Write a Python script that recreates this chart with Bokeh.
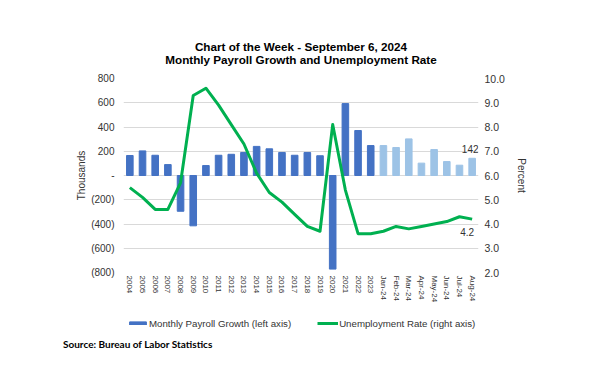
from bokeh.plotting import figure
from bokeh.layouts import column
from bokeh.models import (ColumnDataSource, FactorRange, Range1d, LinearAxis, FixedTicker,
                          Legend, LegendItem, Label, Div)
from bokeh.embed import file_html
from bokeh.resources import INLINE

# ---------------- data ----------------
categories = ["2004", "2005", "2006", "2007", "2008", "2009", "2010", "2011", "2012", "2013",
              "2014", "2015", "2016", "2017", "2018", "2019", "2020", "2021", "2022", "2023",
              "Jan-24", "Feb-24", "Mar-24", "Apr-24", "May-24", "Jun-24", "Jul-24", "Aug-24"]
payroll = [165, 203, 167, 90, -295, -415, 82, 167, 175, 190,
           240, 220, 190, 167, 190, 163, -772, 593, 371, 247,
           247, 231, 302, 102, 214, 115, 85, 142]
unemployment = [5.5, 5.1, 4.6, 4.6, 5.7, 9.3, 9.6, 8.9, 8.1, 7.3,
                6.1, 5.3, 4.9, 4.4, 3.9, 3.7, 8.1, 5.4, 3.6, 3.6,
                3.7, 3.9, 3.8, 3.9, 4.0, 4.1, 4.3, 4.2]
is_monthly = [c.endswith("-24") for c in categories]
left_ticks = [-800, -600, -400, -200, 0, 200, 400, 600, 800]
left_tick_labels = ["(800)", "(600)", "(400)", "(200)", "-", "200", "400", "600", "800"]
right_ticks = [2, 3, 4, 5, 6, 7, 8, 9, 10]
right_tick_labels = ["2.0", "3.0", "4.0", "5.0", "6.0", "7.0", "8.0", "9.0", "10.0"]
title_line1 = "Chart of the Week - September 6, 2024"
title_line2 = "Monthly Payroll Growth and Unemployment Rate"
legend_labels = ["Monthly Payroll Growth (left axis)", "Unemployment Rate (right axis)"]
source_text = "Source: Bureau of Labor Statistics"

DARK = "#4472C4"
LIGHT = "#9DC3E6"
GREEN = "#00B050"
FONT = "Liberation Sans"
TXT = "#333333"
W = 595
FW, FH = 355, 194

colors = [LIGHT if m else DARK for m in is_monthly]
src = ColumnDataSource(dict(cat=categories, payroll=payroll, unemp=unemployment, color=colors))


def blank(fig):
    fig.axis.visible = False
    fig.grid.visible = False
    fig.outline_line_color = None
    fig.background_fill_color = "white"
    fig.border_fill_color = "white"


# ---------------- header with the two title lines ----------------
h = figure(width=W, height=70, x_range=Range1d(0, 1), y_range=Range1d(0, 1), min_border=0,
           output_backend="svg", toolbar_location=None)
blank(h)
for txt, yy in ((title_line1, 24), (title_line2, 11)):
    h.add_layout(Label(x=FW / 2, y=yy, x_units="screen", y_units="screen", text=txt,
                       text_font=FONT, text_font_size="11.7px", text_font_style="bold",
                       text_color="black", text_align="center", text_baseline="middle"))

# ---------------- main chart ----------------
p = figure(x_range=FactorRange(factors=categories), y_range=Range1d(-800, 800),
           frame_width=FW, frame_height=FH,
           min_border_left=123, min_border_right=117, min_border_top=8, min_border_bottom=38,
           output_backend="svg", toolbar_location=None)
p.extra_y_ranges = {"pct": Range1d(2, 10)}
p.outline_line_color = None
p.background_fill_color = "white"
p.border_fill_color = "white"

p.xgrid.grid_line_color = None
p.ygrid.grid_line_color = "#D9D9D9"
p.ygrid.grid_line_width = 1
p.ygrid.ticker = FixedTicker(ticks=left_ticks)

bars = p.vbar(x="cat", top="payroll", width=0.52, color="color", source=src)
line = p.line(x="cat", y="unemp", y_range_name="pct", line_color=GREEN, line_width=3,
              line_join="round", source=src)

last_x = len(categories) - 0.5
p.add_layout(Label(x=last_x, y=payroll[-1], text=str(payroll[-1]),
                   text_font=FONT, text_font_size="10px", text_color=TXT,
                   text_align="center", text_baseline="middle", x_offset=-2, y_offset=9))
p.add_layout(Label(x=last_x, y=unemployment[-1], y_range_name="pct", text=f"{unemployment[-1]:.1f}",
                   text_font=FONT, text_font_size="10px", text_color=TXT,
                   text_align="center", text_baseline="middle", x_offset=-5, y_offset=-13))

ya = p.yaxis[0]
ya.ticker = FixedTicker(ticks=left_ticks)
ya.major_label_overrides = {t: l for t, l in zip(left_ticks, left_tick_labels)}
ya.axis_label = "Thousands"

ra = LinearAxis(y_range_name="pct", ticker=FixedTicker(ticks=right_ticks), axis_label="Percent")
ra.major_label_overrides = {t: l for t, l in zip(right_ticks, right_tick_labels)}
p.add_layout(ra, "right")

for ax in (ya, ra):
    ax.axis_line_color = None
    ax.major_tick_line_color = None
    ax.minor_tick_line_color = None
    ax.major_tick_out = 0
    ax.major_tick_in = 0
    ax.minor_tick_out = 0
    ax.major_label_text_font = FONT
    ax.major_label_text_font_size = "10px"
    ax.major_label_text_color = TXT
    ax.axis_label_text_font = FONT
    ax.axis_label_text_font_size = "10px"
    ax.axis_label_text_font_style = "normal"
    ax.axis_label_text_color = TXT
ya.major_label_standoff = 9
ya.axis_label_standoff = 1
ra.major_label_standoff = 6
ra.axis_label_standoff = 8
ra.major_label_text_font_size = "10.5px"

xa = p.xaxis[0]
xa.axis_line_color = None
xa.major_tick_line_color = None
xa.minor_tick_line_color = None
xa.major_tick_out = 0
xa.major_tick_in = 0
xa.major_label_orientation = "vertical"
xa.major_label_standoff = 3
xa.major_label_text_font = FONT
xa.major_label_text_font_size = "8px"
xa.major_label_text_color = TXT

# ---------------- legend strip (same series, ranges that keep the marks out of view) ----------------
q = figure(width=W, height=26, x_range=p.x_range, y_range=Range1d(2000, 3000), min_border=0,
           output_backend="svg", toolbar_location=None)
q.extra_y_ranges = {"pct": Range1d(50, 60)}
blank(q)
lg_bar = q.vbar(x="cat", top="payroll", width=0.52, color=DARK, source=src)
lg_line = q.line(x="cat", y="unemp", y_range_name="pct", line_color=GREEN, line_width=3, source=src)
legend = Legend(items=[LegendItem(label=legend_labels[0], renderers=[lg_bar], index=0),
                       LegendItem(label=legend_labels[1], renderers=[lg_line])],
                orientation="horizontal", location=(4, 7),
                glyph_width=21, glyph_height=4, label_height=12, label_standoff=1,
                spacing=26, padding=0, margin=0,
                label_text_font=FONT, label_text_font_size="9.7px", label_text_color=TXT,
                border_line_color=None, background_fill_alpha=0)
q.add_layout(legend, "center")

# ---------------- source line ----------------
src_div = Div(text=source_text, width=300, height=14, margin=(1, 0, 0, 63),
              styles={"font-family": "Lato", "font-weight": "bold", "font-size": "10px",
                      "color": "black", "line-height": "14px"})

layout = column(h, p, q, src_div, spacing=0)
open("out.html", "w").write(file_html(layout, INLINE))
